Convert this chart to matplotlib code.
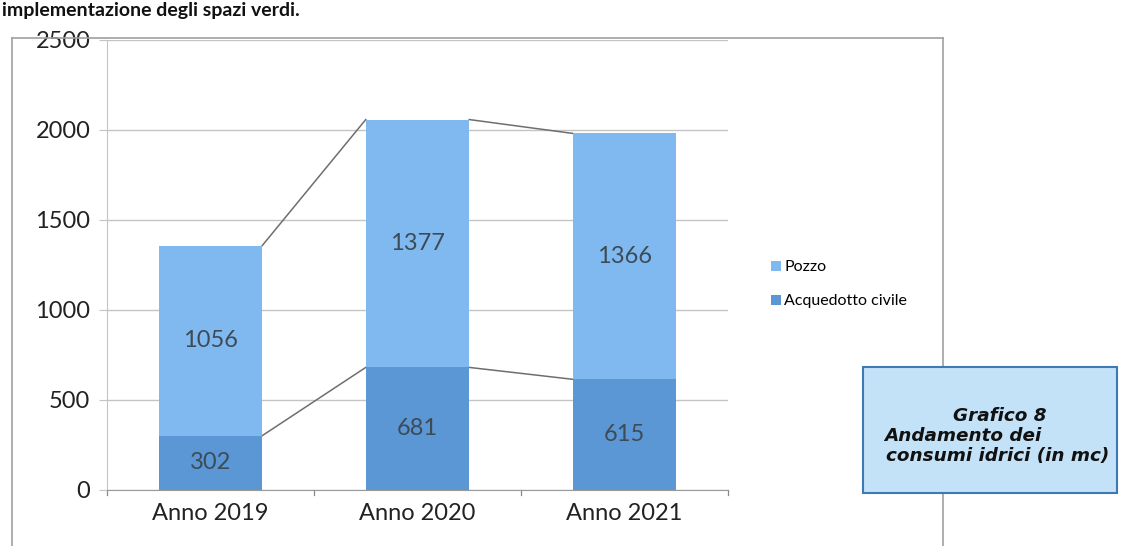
import matplotlib.pyplot as plt
from matplotlib.patches import Rectangle
from matplotlib.lines import Line2D

# data
anni = ['Anno 2019', 'Anno 2020', 'Anno 2021']
acquedotto = [302, 681, 615]
pozzo = [1056, 1377, 1366]
yticks = [0, 500, 1000, 1500, 2000, 2500]

c_pozzo = '#80b9ef'
c_acq = '#5b96d5'
grid_c = '#c4c4c4'

plt.rcParams['font.family'] = ['Lato', 'DejaVu Sans']

fig = plt.figure(figsize=(11.22, 5.46), dpi=100)
W, H = 1122, 546
ax = fig.add_axes([107 / W, 1 - 490 / H, 621 / W, 450 / H])

x = range(len(anni))
bw = 0.5
ax.bar(x, acquedotto, width=bw, color=c_acq, zorder=3, label='Acquedotto civile')
ax.bar(x, pozzo, width=bw, bottom=acquedotto, color=c_pozzo, zorder=3, label='Pozzo')

totali = [a + p for a, p in zip(acquedotto, pozzo)]

# series lines between bars
for i in range(len(anni) - 1):
    for serie in (acquedotto, totali):
        ax.plot([i + bw / 2, i + 1 - bw / 2], [serie[i], serie[i + 1]],
                color='#6e6e6e', lw=1.1, zorder=2)

# data labels
for i in x:
    ax.text(i, acquedotto[i] / 2, str(acquedotto[i]), ha='center', va='center',
            fontsize=17, color='#3d4b57', zorder=4)
    ax.text(i, acquedotto[i] + pozzo[i] / 2, str(pozzo[i]), ha='center', va='center',
            fontsize=17, color='#3d4b57', zorder=4)

ax.set_xlim(-0.5, 2.5)
ax.set_ylim(0, 2500)
ax.set_yticks(yticks)
ax.set_yticklabels([str(v) for v in yticks], fontsize=17, color='#222222')
ax.set_xticks(list(x))
ax.set_xticklabels(anni, fontsize=17, color='#222222')
ax.tick_params(axis='x', length=0, pad=9)
ax.tick_params(axis='y', length=6, color=grid_c, pad=6)
# category boundary ticks
for b in [-0.5, 0.5, 1.5, 2.5]:
    ax.plot([b, b], [0, -30], color='#888888', lw=0.9, clip_on=False, zorder=1)

ax.grid(axis='y', color=grid_c, lw=1, zorder=0)
for s in ['top', 'right']:
    ax.spines[s].set_visible(False)
ax.spines['left'].set_color(grid_c)
ax.spines['bottom'].set_color('#999999')

# legend
h, l = ax.get_legend_handles_labels()
fig.legend(h[::-1], l[::-1], loc='upper left', bbox_to_anchor=(757 / W, 1 - 246 / H),
           frameon=False, fontsize=11.5, handlelength=0.6, handleheight=0.6,
           handletextpad=0.2, labelspacing=1.25)

# chart frame
fc = '#a0a0a0'
fig.add_artist(Line2D([12 / W, 12 / W], [0, 1 - 38 / H], color=fc, lw=1.2))
fig.add_artist(Line2D([12 / W, 943 / W], [1 - 38 / H, 1 - 38 / H], color=fc, lw=1.2))
fig.add_artist(Line2D([943 / W, 943 / W], [0, 1 - 38 / H], color=fc, lw=1.2))

# text of the page above the chart
fig.text(2 / W, 1 - 16 / H, 'implementazione degli spazi verdi.', fontsize=14,
         fontweight='bold', va='baseline', ha='left', color='#111111')

# caption box
fig.add_artist(Rectangle((863 / W, 1 - 493 / H), 254 / W, 126 / H,
                         transform=fig.transFigure, facecolor='#c4e2f7',
                         edgecolor='#3f78b4', lw=1.5, zorder=5))
cap = dict(fontsize=13.2, fontweight='bold', style='italic', family='DejaVu Sans',
           va='center', zorder=6, color='#111111')
fig.text(1000 / W, 1 - 416 / H, 'Grafico 8', ha='center', **cap)
fig.text(884 / W, 1 - 436 / H, 'Andamento dei', ha='left', **cap)
fig.text(886 / W, 1 - 456 / H, 'consumi idrici (in mc)', ha='left', **cap)

fig.savefig('out.png', dpi=100)
